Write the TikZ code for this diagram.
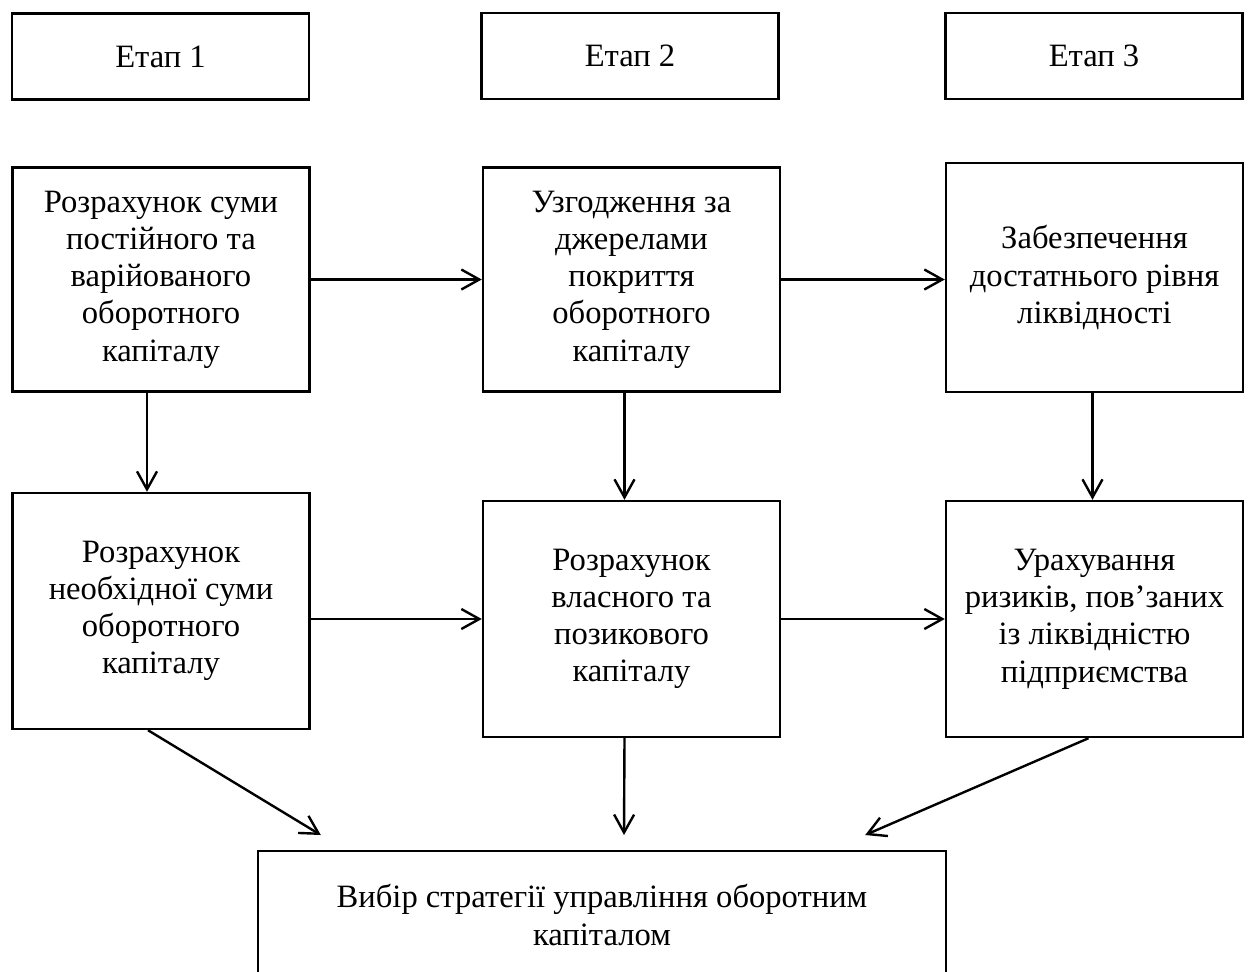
\documentclass[tikz,border=0pt]{standalone}
\usepackage{fontspec}
\setmainfont{Liberation Serif}
\usetikzlibrary{arrows.meta,positioning}
\tikzset{
myStage/.style={
	rectangle, draw, line width=1.2pt,
	minimum width=148.5pt, minimum height=43pt,
	inner sep=0pt, text=black,
	font=\fontsize{16.3}{18.6}\selectfont
}
, myStep/.style={
	rectangle, draw, line width=1.2pt, align=center,
	minimum width=148.5pt, minimum height=112pt,
	inner sep=0pt, text=black,
	font=\fontsize{16.3}{18.6}\selectfont
}
, myText/.style={
	align=center, inner sep=0pt,
	font=\fontsize{16.3}{18.6}\selectfont
}
% link
, myArrow/.style={-{Straight Barb[length=9pt,width=10pt]}, line width=1.2pt}
}

\begin{document}
\begin{tikzpicture}[x=0.5pt,y=-0.5pt]
	\useasboundingbox (0,0) rectangle (1248,971);
	% stages
	\node[myStage] (S1) at (160.5,56.5) {Етап 1};
	\node[myStage] (S2) at (630,56) {Етап 2};
	\node[myStage] (S3) at (1094,56) {Етап 3};
	% steps
	\node[myStep] (A) at (161,279.5) {Розрахунок суми\\постійного та\\варійованого\\оборотного\\капіталу};
	\node[myStep] (B) at (631.5,279.5) {Узгодження за\\джерелами\\покриття\\оборотного\\капіталу};
	\node[myStep, minimum height=114.5pt] (C) at (1094.5,277.5) {Забезпечення\\достатнього рівня\\ліквідності};
	\node[myStep, minimum height=118pt] (D) at (161,611) {Розрахунок\\необхідної суми\\оборотного\\капіталу};
	\node[myStep, minimum height=118pt] (E) at (631.5,619) {Розрахунок\\власного та\\позикового\\капіталу};
	\node[myStep, minimum height=118pt] (F) at (1094.5,619) {Урахування\\ризиків, пов’заних\\із ліквідністю\\підприємства};
	% strategy
	\node[myStep, minimum width=344pt, minimum height=100pt, anchor=north] (G) at (602,850) {};
	\node[myText] (Gtext) at (602,915) {Вибір стратегії управління оборотним\\капіталом};

	% links
	\draw [myArrow] (A.east) -- (B.west);
	\draw [myArrow] (B.east) -- (C.west |- B.east);
	\draw [myArrow] (D.east |- E.west) -- (E.west);
	\draw [myArrow] (E.east) -- (F.west);
	\draw [myArrow] ([xshift=-7pt]A.south) -- ([xshift=-7pt]D.north);
	\draw [myArrow] ([xshift=-3.5pt]B.south) -- ([xshift=-3.5pt]E.north);
	\draw [myArrow] ([xshift=-1pt]C.south) -- ([xshift=-1pt]F.north);
	\draw [myArrow] ([xshift=-6.5pt]D.south) -- ([shift={(32pt,7.5pt)}]G.north west);
	\draw [myArrow] ([xshift=-3.5pt]E.south) -- ([shift={(11pt,7.5pt)}]G.north);
	\draw [myArrow] ([xshift=-3pt]F.south) -- ([shift={(-41pt,7.5pt)}]G.north east);
\end{tikzpicture}
\end{document}
